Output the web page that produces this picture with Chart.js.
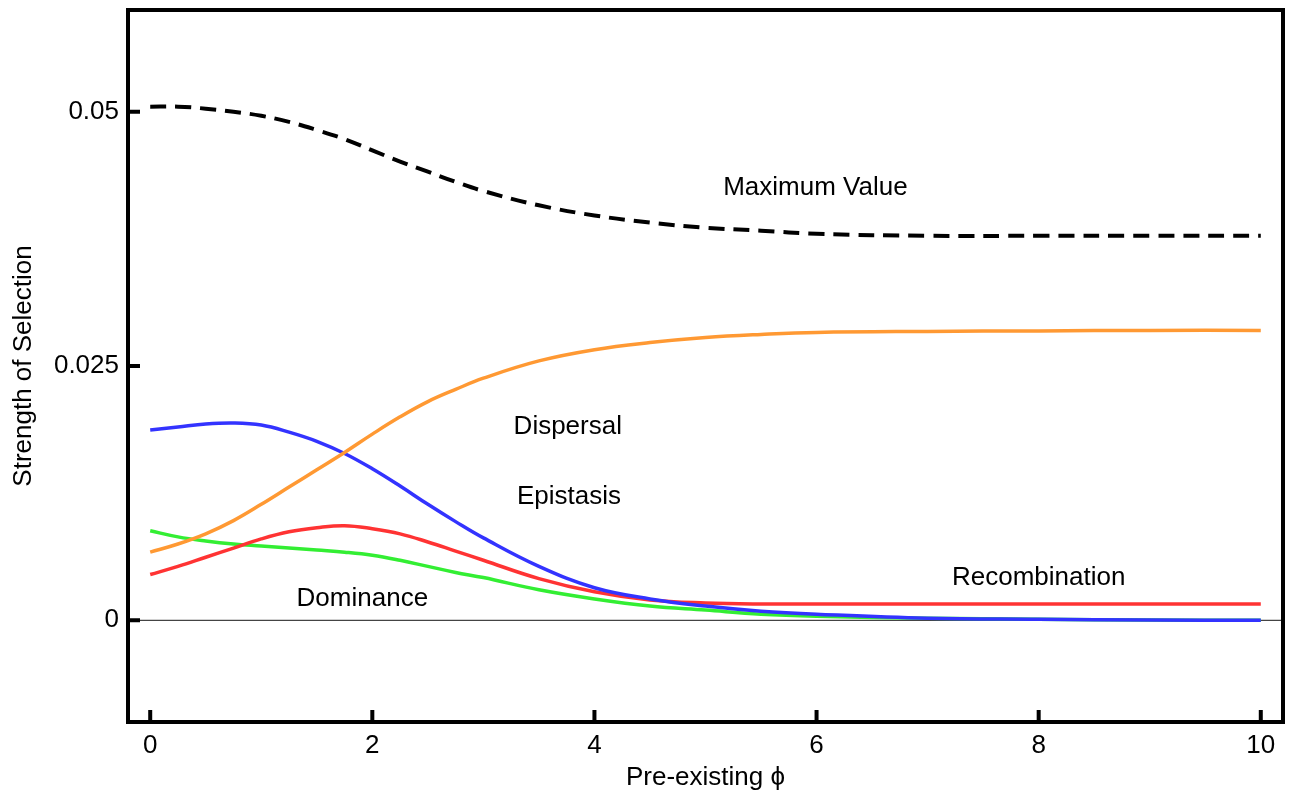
<!DOCTYPE html>
<html>
<head>
<meta charset="utf-8">
<script src="https://cdn.jsdelivr.net/npm/chart.js@4.4.0/dist/chart.umd.min.js"></script>
<style>
  html, body { margin: 0; padding: 0; background: #ffffff; }
  #wrap { width: 1290px; height: 799px; }
</style>
</head>
<body>
<div id="wrap"><canvas id="c" width="1290" height="799"></canvas></div>
<script>
// ---- data ----
const phi = [0, 0.25, 0.5, 0.75, 1.0, 1.25, 1.5, 1.75, 2.0, 2.25, 2.5, 2.75, 3.0, 3.5, 4.0, 4.5, 5.0, 5.5, 6.0, 7.0, 8.0, 9.0, 10.0];
const maximumValue = [0.0505, 0.0505, 0.0503, 0.0500, 0.0496, 0.0490, 0.0482, 0.0473, 0.0462, 0.0451, 0.0441, 0.0431, 0.0422, 0.0408, 0.0398, 0.0391, 0.0386, 0.0383, 0.0380, 0.0378, 0.0378, 0.0378, 0.0378];
const dispersal    = [0.0067, 0.0075, 0.0085, 0.0098, 0.0114, 0.0131, 0.0148, 0.0165, 0.0183, 0.0200, 0.0215, 0.0227, 0.0238, 0.0255, 0.0266, 0.0273, 0.0278, 0.0281, 0.0283, 0.0284, 0.02845, 0.0285, 0.0285];
const epistasis    = [0.0187, 0.0190, 0.0193, 0.0194, 0.0192, 0.0185, 0.0176, 0.0164, 0.0149, 0.0132, 0.0114, 0.0097, 0.0081, 0.0053, 0.0032, 0.0021, 0.0014, 0.0009, 0.0006, 0.0002, 0.0001, 0.00003, 0.0];
const recombination= [0.0045, 0.0053, 0.0062, 0.0071, 0.0080, 0.0087, 0.0091, 0.0093, 0.0090, 0.0085, 0.0077, 0.0068, 0.0059, 0.0041, 0.0028, 0.0020, 0.0017, 0.0016, 0.0016, 0.0016, 0.0016, 0.0016, 0.0016];
const dominance    = [0.0088, 0.0082, 0.0078, 0.0075, 0.0073, 0.0071, 0.0069, 0.0067, 0.0064, 0.0059, 0.0053, 0.0047, 0.0042, 0.0030, 0.0021, 0.0014, 0.0010, 0.0006, 0.0004, 0.0002, 0.0001, 0.00003, 0.0];
const xTicks = [0, 2, 4, 6, 8, 10];
const yTicks = [0, 0.025, 0.05];
const yTickLabels = ["0", "0.025", "0.05"];
const curveLabels = [
  { text: "Maximum Value", x: 5.99, y: 0.04256 },
  { text: "Dispersal",     x: 3.76, y: 0.01906 },
  { text: "Epistasis",     x: 3.77, y: 0.01211 },
  { text: "Recombination", x: 8.0,  y: 0.00418 },
  { text: "Dominance",     x: 1.91, y: 0.00212 }
];

const FONT = "'Liberation Sans', Arial, Helvetica, sans-serif";
const pts = arr => phi.map((x, i) => ({ x: x, y: arr[i] }));

const framePlugin = {
  id: 'frame',
  beforeDatasetsDraw(chart) {
    const ctx = chart.ctx, a = chart.chartArea;
    const ys = chart.scales.y;
    const y0 = ys.getPixelForValue(0);
    ctx.save();
    ctx.strokeStyle = '#444';
    ctx.lineWidth = 1.2;
    ctx.beginPath();
    ctx.moveTo(a.left, y0);
    ctx.lineTo(a.right, y0);
    ctx.stroke();
    ctx.restore();
  },
  afterDatasetsDraw(chart) {
    const ctx = chart.ctx, a = chart.chartArea;
    const xs = chart.scales.x, ys = chart.scales.y;
    ctx.save();
    ctx.fillStyle = '#000';
    ctx.font = "26px " + FONT;
    ctx.textAlign = 'center';
    ctx.textBaseline = 'middle';
    curveLabels.forEach(l => {
      ctx.fillText(l.text, xs.getPixelForValue(l.x), ys.getPixelForValue(l.y));
    });
    ctx.strokeStyle = '#000';
    ctx.lineWidth = 4;
    ctx.beginPath();
    xTicks.forEach(v => {
      const px = xs.getPixelForValue(v);
      ctx.moveTo(px, a.bottom);
      ctx.lineTo(px, a.bottom - 12);
    });
    yTicks.forEach(v => {
      const py = ys.getPixelForValue(v);
      ctx.moveTo(a.left, py);
      ctx.lineTo(a.left + 12, py);
    });
    ctx.stroke();
    ctx.lineWidth = 4;
    ctx.strokeRect(a.left, a.top, a.right - a.left, a.bottom - a.top);
    ctx.restore();
  }
};

new Chart(document.getElementById('c'), {
  type: 'line',
  data: {
    datasets: [
      { label: 'Maximum Value', data: pts(maximumValue), borderColor: '#000000', borderWidth: 4, borderDash: [16, 9] },
      { label: 'Dispersal', data: pts(dispersal), borderColor: '#ff9933', borderWidth: 3.5 },
      { label: 'Epistasis', data: pts(epistasis), borderColor: '#3333ff', borderWidth: 3.5 },
      { label: 'Recombination', data: pts(recombination), borderColor: '#ff3333', borderWidth: 3.5 },
      { label: 'Dominance', data: pts(dominance), borderColor: '#33ee33', borderWidth: 3.5 }
    ]
  },
  options: {
    responsive: false,
    animation: false,
    events: [],
    layout: { padding: { top: 10, right: 7, left: 0, bottom: 0 } },
    elements: {
      point: { radius: 0 },
      line: { tension: 0.4, fill: false, borderCapStyle: 'butt' }
    },
    plugins: { legend: { display: false }, tooltip: { enabled: false } },
    scales: {
      x: {
        type: 'linear',
        min: -0.2, max: 10.2,
        afterBuildTicks: s => { s.ticks = xTicks.map(v => ({ value: v })); },
        afterFit: s => { s.height = 77; s.paddingLeft = 0; s.paddingRight = 0; },
        grid: { display: false, drawTicks: false },
        border: { display: false },
        ticks: { color: '#000', font: { size: 26, family: FONT }, padding: 8, maxRotation: 0,
                 callback: v => String(v) },
        title: { display: true, text: 'Pre-existing ϕ', color: '#000',
                 font: { size: 26, family: FONT }, padding: { top: 0, bottom: 6 } }
      },
      y: {
        type: 'linear',
        min: -0.01, max: 0.06,
        afterBuildTicks: s => { s.ticks = yTicks.map(v => ({ value: v })); },
        afterFit: s => { s.width = 128; s.paddingTop = 0; s.paddingBottom = 0; },
        grid: { display: false, drawTicks: false },
        border: { display: false },
        ticks: { color: '#000', font: { size: 26, family: FONT }, padding: 9,
                 callback: v => { const i = yTicks.indexOf(v); return i >= 0 ? yTickLabels[i] : ''; } },
        title: { display: true, text: 'Strength of Selection', color: '#000',
                 font: { size: 26, family: FONT }, padding: { top: 8, bottom: 0 } }
      }
    }
  },
  plugins: [framePlugin]
});
</script>
</body>
</html>
